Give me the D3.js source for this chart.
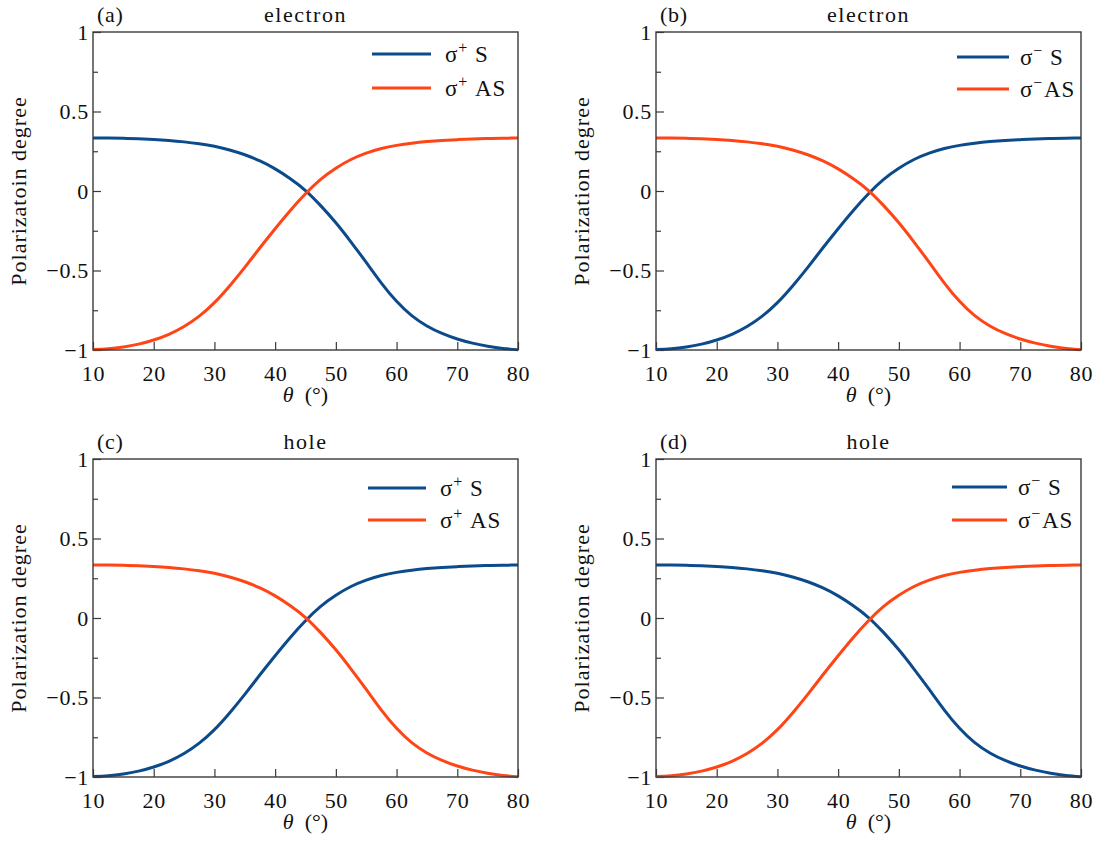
<!DOCTYPE html>
<html>
<head>
<meta charset="utf-8">
<script src="https://cdn.jsdelivr.net/npm/d3@7"></script>
<style>
  html, body { margin: 0; padding: 0; background: #fff; }
  svg { display: block; }
  svg text { font-family: "Liberation Serif", "Times New Roman", serif; fill: #111; }
</style>
</head>
<body>
<svg id="chart" width="1102" height="847"></svg>
<script>
// Incidence angle grid (degrees)
const thetaDeg = [10, 12.5, 15, 17.5, 20, 22.5, 25, 27.5, 30, 32.5, 35, 37.5, 40, 42.5, 45,
                  47.5, 50, 52.5, 55, 57.5, 60, 62.5, 65, 67.5, 70, 72.5, 75, 77.5, 80];

// Polarization that starts at +1/3 and falls to -1 with angle
const fallingPol = [0.333, 0.333, 0.331, 0.328, 0.324, 0.318, 0.309, 0.297, 0.281, 0.258, 0.228, 0.189, 0.139, 0.077, 0.003,
                    -0.092, -0.200, -0.321, -0.449, -0.579, -0.694, -0.784, -0.849, -0.896, -0.931, -0.957, -0.976, -0.990, -0.998];

// Polarization that starts at -1 and rises to +1/3 with angle
const risingPol = [-0.997, -0.992, -0.981, -0.963, -0.937, -0.901, -0.852, -0.787, -0.702, -0.597, -0.480, -0.357, -0.237, -0.122, -0.017,
                   0.073, 0.143, 0.198, 0.238, 0.267, 0.287, 0.301, 0.311, 0.318, 0.323, 0.327, 0.330, 0.332, 0.333];

// Axis ticks
const xTicks = [10, 20, 30, 40, 50, 60, 70, 80];
const yTicks = [-1, -0.5, 0, 0.5, 1];
const yMinorTicks = [-0.75, -0.25, 0.25, 0.75];
const yTickLabels = ["\u22121", "\u22120.5", "0", "0.5", "1"];

// Panel labels and legend entries
const panelTags = ["(a)", "(b)", "(c)", "(d)"];
const panelCarriers = ["electron", "electron", "hole", "hole"];
const panelYTitles = ["Polarizatoin degree", "Polarization degree", "Polarization degree", "Polarization degree"];
const panelHelicity = ["+", "\u2212", "+", "\u2212"];

const COLOR_S = "#0b4a8b";
const COLOR_AS = "#ff4416";
const AXIS_COLOR = "#3a3a3a";
const FONT = "'Liberation Serif', 'Times New Roman', serif";
const FS = 22;
const LS = "0.7px";

const svg = d3.select("#chart");

const plotW = 425, plotH = 318;
const layout = [
  { left: 93,  top: 32,  sCurve: fallingPol, asCurve: risingPol,
    legend: { x1: 372, x2: 431, yS: 54, yAS: 88, tx: 445, gap: true } },
  { left: 656, top: 32,  sCurve: risingPol,  asCurve: fallingPol,
    legend: { x1: 957, x2: 1009, yS: 57, yAS: 89, tx: 1020, gap: false } },
  { left: 93,  top: 459, sCurve: risingPol,  asCurve: fallingPol,
    legend: { x1: 368, x2: 426, yS: 488, yAS: 520, tx: 440, gap: true } },
  { left: 656, top: 459, sCurve: fallingPol, asCurve: risingPol,
    legend: { x1: 952, x2: 1007, yS: 487, yAS: 520, tx: 1018, gap: false } }
];

layout.forEach((p, i) => {
  const x = d3.scaleLinear().domain([10, 80]).range([p.left, p.left + plotW]);
  const y = d3.scaleLinear().domain([-1, 1]).range([p.top + plotH, p.top]);
  const g = svg.append("g");

  // x axis with inward ticks
  const xAxis = g.append("g")
    .attr("transform", `translate(0,${p.top + plotH})`)
    .call(d3.axisBottom(x).tickValues(xTicks).tickSize(-8).tickPadding(15).tickFormat(d3.format("d")));
  xAxis.select(".domain").remove();
  xAxis.selectAll("line").attr("stroke", AXIS_COLOR).attr("stroke-width", 1.2);
  xAxis.selectAll("text").attr("font-size", FS).attr("fill", "#111")
    .style("font-family", FONT).style("letter-spacing", LS);

  // y axis, major ticks with labels
  const yAxis = g.append("g")
    .attr("transform", `translate(${p.left},0)`)
    .call(d3.axisLeft(y).tickValues(yTicks).tickSize(-8).tickPadding(4)
      .tickFormat((d, k) => yTickLabels[k]));
  yAxis.select(".domain").remove();
  yAxis.selectAll("line").attr("stroke", AXIS_COLOR).attr("stroke-width", 1.2);
  yAxis.selectAll("text").attr("font-size", FS).attr("fill", "#111")
    .style("font-family", FONT).style("letter-spacing", LS);

  // y axis minor ticks
  const yMinor = g.append("g")
    .attr("transform", `translate(${p.left},0)`)
    .call(d3.axisLeft(y).tickValues(yMinorTicks).tickSize(-5).tickFormat(""));
  yMinor.select(".domain").remove();
  yMinor.selectAll("line").attr("stroke", AXIS_COLOR).attr("stroke-width", 1.2);

  // curves
  const line = d3.line()
    .x((d, k) => x(thetaDeg[k]))
    .y(d => y(d))
    .curve(d3.curveNatural);

  g.append("path").datum(p.sCurve)
    .attr("d", line).attr("fill", "none")
    .attr("stroke", COLOR_S).attr("stroke-width", 3);
  g.append("path").datum(p.asCurve)
    .attr("d", line).attr("fill", "none")
    .attr("stroke", COLOR_AS).attr("stroke-width", 3);

  // plot frame
  g.append("rect")
    .attr("x", p.left).attr("y", p.top)
    .attr("width", plotW).attr("height", plotH)
    .attr("fill", "none").attr("stroke", AXIS_COLOR).attr("stroke-width", 1.4);

  // panel tag and carrier title
  g.append("text").attr("x", p.left + 4).attr("y", p.top - 10)
    .attr("font-size", FS).style("letter-spacing", LS).text(panelTags[i]);
  g.append("text").attr("x", p.left + plotW / 2).attr("y", p.top - 10)
    .attr("text-anchor", "middle").attr("font-size", FS).style("letter-spacing", "1.5px")
    .text(panelCarriers[i]);

  // axis titles
  const xt = g.append("text")
    .attr("x", p.left + plotW / 2).attr("y", p.top + plotH + 52)
    .attr("text-anchor", "middle").attr("font-size", FS);
  xt.append("tspan").attr("font-style", "italic").text("\u03b8");
  xt.append("tspan").attr("dx", 11).text("(\u00b0)");

  g.append("text")
    .attr("transform", `translate(${p.left - 67},${p.top + plotH / 2}) rotate(-90)`)
    .attr("text-anchor", "middle").attr("font-size", FS).style("letter-spacing", "1px")
    .text(panelYTitles[i]);

  // legend
  const L = p.legend;
  [[L.yS, COLOR_S, "S"], [L.yAS, COLOR_AS, "AS"]].forEach(([ly, col, lab]) => {
    g.append("line").attr("x1", L.x1).attr("x2", L.x2).attr("y1", ly).attr("y2", ly)
      .attr("stroke", col).attr("stroke-width", 3);
    const t = g.append("text").attr("x", L.tx).attr("y", ly + 8).attr("font-size", 23)
      .style("letter-spacing", "0.8px");
    t.append("tspan").text("\u03c3");
    t.append("tspan").attr("font-size", 16).attr("dy", -9).text(panelHelicity[i]);
    const sep = (lab === "AS" && !L.gap) ? 1 : 7;
    t.append("tspan").attr("dy", 9).attr("dx", sep).text(lab);
  });
});
</script>
</body>
</html>
